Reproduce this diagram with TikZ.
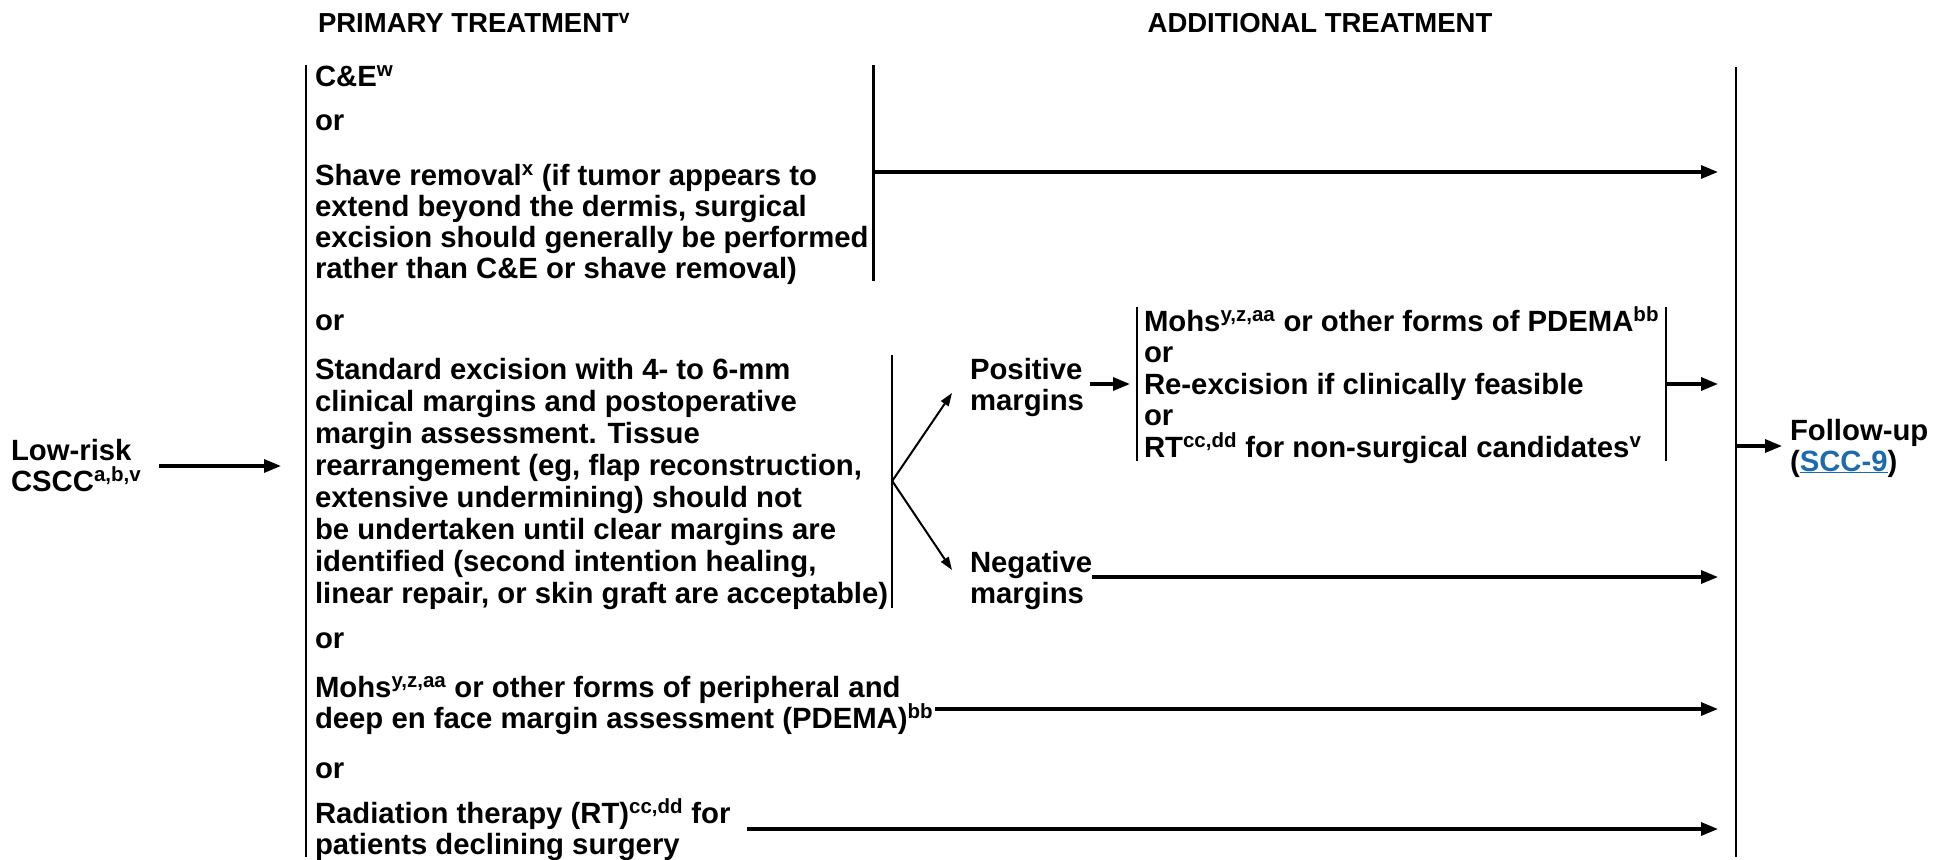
\documentclass[tikz,border=0pt]{standalone}
\usepackage{fontspec}
\setmainfont{Liberation Sans}
\usetikzlibrary{arrows.meta}
\definecolor{linkblue}{RGB}{28,107,172}
\newcommand{\tightlines}{\lineskiplimit=-100pt\relax\lineskip=0pt\relax}
\begin{document}
\begin{tikzpicture}[x=1pt,y=-1pt,
  txt/.style={inner sep=0pt, outer sep=0pt, anchor=base west, align=left,
    font=\fontsize{29.3}{31}\selectfont\bfseries\tightlines},
  txtwide/.style={txt, font=\fontsize{29.3}{32}\selectfont\bfseries\tightlines},
  txtmid/.style={txt, font=\fontsize{29.3}{31.5}\selectfont\bfseries\tightlines},
  head/.style={inner sep=0pt, outer sep=0pt, anchor=base west, font=\fontsize{27.5}{30}\selectfont\bfseries},
  bar/.style={line width=2.4pt},
  arr/.style={line width=3.2pt, -{Triangle[length=17pt,width=13pt]}},
  br/.style={line width=2pt, -{Triangle[length=13pt,width=9pt]}}]
\useasboundingbox (0,0) rectangle (1934,859);

% headings
\node[head] (hp) at (318,33) {PRIMARY TREATMENT\textsuperscript{v}};
\node[head, anchor=base] (ha) at (1320,33) {ADDITIONAL TREATMENT};

% main bars
\coordinate (L) at (306,0);
\coordinate (R) at (1736,0);
\draw[bar] (306,65) -- (306,857);
\draw[bar] (1736,67) -- (1736,857);

% primary column (multi-line nodes are placed by the baseline of their last line)
\node[txt] (ce) at (315,86) {C\&E\textsuperscript{w}};
\node[txt] (or1) at (315,130) {or};
\node[txt] (shave) at (315,278) {Shave removal\textsuperscript{x} (if tumor appears to\\extend beyond the dermis, surgical\\excision should generally be performed\\rather than C\&E or shave removal)};
\node[txt] (or2) at (315,330) {or};
\node[txtwide] (std) at (315,603) {Standard excision with 4- to 6-mm\\clinical margins and postoperative\\margin assessment. Tissue\\rearrangement (eg, flap reconstruction,\\extensive undermining) should not\\be undertaken until clear margins are\\identified (second intention healing,\\linear repair, or skin graft are acceptable)};
\node[txt] (or3) at (315,648) {or};
\node[txt] (mohs) at (315,728) {Mohs\textsuperscript{y,z,aa} or other forms of peripheral and\\deep en face margin assessment (PDEMA)\textsuperscript{bb}};
\node[txt] (or4) at (315,778) {or};
\node[txt] (rad) at (315,854) {Radiation therapy (RT)\textsuperscript{cc,dd} for\\patients declining surgery};

% left
\node[txt] (low) at (11,491) {Low-risk\\CSCC\textsuperscript{a,b,v}};
\coordinate (lowA) at ([xshift=18pt]low.east);
\draw[arr, shorten >=25pt] (lowA |- 0,466) -- (L |- 0,466);

% shave bar and arrow
\coordinate (S) at ([xshift=5pt]shave.east);
\draw[bar] (S |- 0,65) -- (S |- 0,281);
\draw[arr, shorten >=18pt] (S |- 0,172) -- (R |- 0,172);

% standard excision bar and branches
\coordinate (E) at ([xshift=4pt]std.east);
\draw[bar] (E |- 0,355) -- (E |- 0,608);
\coordinate (bp) at (E |- 0,481);
\node[txt] (pos) at (970,410) {Positive\\margins};
\node[txt] (neg) at (970,603) {Negative\\margins};
\coordinate (posT) at (952,393);
\coordinate (negT) at (952,570);
\draw[br] (bp) -- (posT);
\draw[br] (bp) -- (negT);

% positive margins box
\node[txtmid] (box) at (1144,457) {Mohs\textsuperscript{y,z,aa} or other forms of PDEMA\textsuperscript{bb}\\or\\Re-excision if clinically feasible\\or\\RT\textsuperscript{cc,dd} for non-surgical candidates\textsuperscript{v}};
\coordinate (B1) at ([xshift=-7pt]box.west);
\coordinate (B2) at ([xshift=7pt]box.east);
\draw[bar] (B1 |- 0,307) -- (B1 |- 0,461);
\draw[bar] (B2 |- 0,307) -- (B2 |- 0,461);
\coordinate (posA) at ([xshift=6pt]pos.east);
\draw[arr, shorten >=7pt] (posA |- 0,384) -- (B1 |- 0,384);
\draw[arr, shorten >=18pt] (B2 |- 0,384) -- (R |- 0,384);

% negative arrow
\draw[arr, shorten >=18pt] (neg.east |- 0,577) -- (R |- 0,577);

% Mohs and RT arrows
\coordinate (mohsA) at ([xshift=2pt]mohs.east);
\draw[arr, shorten >=18pt] (mohsA |- 0,709) -- (R |- 0,709);
\coordinate (radA) at ([xshift=17pt]rad.east);
\draw[arr, shorten >=18pt] (radA |- 0,829) -- (R |- 0,829);

% follow-up
\node[txt] (fu) at (1790,471) {Follow-up\\(\textcolor{linkblue}{\underline{SCC-9}})};
\draw[arr, shorten >=8pt] (R |- 0,446) -- (fu.west |- 0,446);
\end{tikzpicture}
\end{document}
